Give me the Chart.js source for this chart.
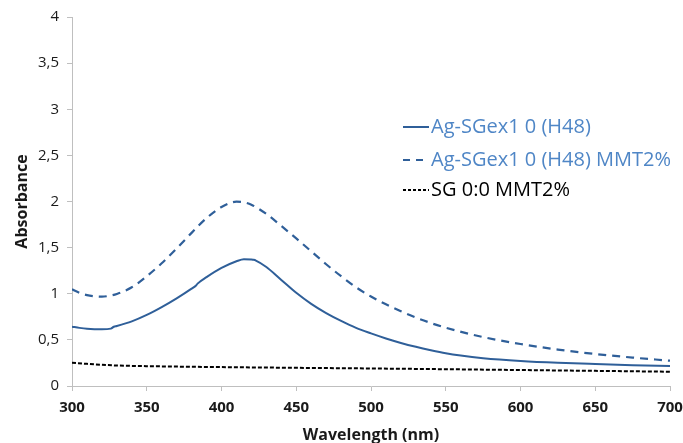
<!DOCTYPE html>
<html>
<head>
<meta charset="utf-8">
<script src="https://cdn.jsdelivr.net/npm/chart.js@4.4.1/dist/chart.umd.min.js"></script>
<style>
  html, body { margin: 0; padding: 0; background: #fff; }
  #wrap { width: 683px; height: 443px; }
</style>
</head>
<body>
<div id="wrap"><canvas id="absChart" width="683" height="443"></canvas></div>
<script>
// --- Data ---
const seriesNames = ['Ag-SGex1 0 (H48)', 'Ag-SGex1 0 (H48) MMT2%', 'SG 0:0 MMT2%'];

const wlH48 = [300, 305, 310, 315, 320, 326, 328, 330, 340, 350, 360, 370, 380, 383, 384, 390, 400, 410, 415, 420, 421, 423, 430, 440, 450, 460, 470, 480, 490, 500, 510, 520, 530, 540, 550, 560, 575, 600, 625, 650, 675, 700];
const absH48 = [0.643, 0.630, 0.620, 0.615, 0.614, 0.622, 0.642, 0.650, 0.700, 0.770, 0.855, 0.950, 1.055, 1.090, 1.110, 1.180, 1.280, 1.352, 1.375, 1.372, 1.369, 1.360, 1.290, 1.150, 1.010, 0.890, 0.790, 0.705, 0.630, 0.570, 0.515, 0.467, 0.425, 0.388, 0.355, 0.330, 0.302, 0.272, 0.252, 0.238, 0.226, 0.217];

const wlMMT = [300, 305, 310, 315, 320, 325, 330, 340, 350, 360, 370, 380, 390, 400, 410, 415, 420, 430, 440, 450, 460, 470, 480, 490, 500, 510, 520, 530, 540, 550, 575, 600, 625, 650, 675, 700];
const absMMT = [1.048, 1.010, 0.985, 0.972, 0.968, 0.978, 0.998, 1.070, 1.190, 1.330, 1.490, 1.660, 1.820, 1.940, 1.998, 1.992, 1.965, 1.865, 1.735, 1.600, 1.460, 1.320, 1.190, 1.070, 0.970, 0.885, 0.810, 0.742, 0.683, 0.632, 0.530, 0.455, 0.395, 0.347, 0.308, 0.274];

const wlSG = [300, 310, 320, 327, 330, 350, 400, 450, 500, 550, 600, 650, 700];
const absSG = [0.253, 0.240, 0.230, 0.224, 0.222, 0.215, 0.205, 0.197, 0.190, 0.182, 0.173, 0.164, 0.155];

const xTicks = [300, 350, 400, 450, 500, 550, 600, 650, 700];
const yTicks = [0, 0.5, 1, 1.5, 2, 2.5, 3, 3.5, 4];

const lineBlue = '#2f5f99';
const legendBlue = '#4f86c6';
const axisGray = '#bfbfbf';

function toPoints(xs, ys) {
    return xs.map((x, i) => ({ x: x, y: ys[i] }));
}

// legend drawn inside the plot, Excel style
const insideLegend = {
    id: 'insideLegend',
    afterDatasetsDraw(chart) {
        const ctx = chart.ctx;
        const rows = [
            { y: 127, color: legendBlue, dash: [], stroke: lineBlue, width: 2 },
            { y: 160, color: legendBlue, dash: [7, 6], stroke: lineBlue, width: 2 },
            { y: 190, color: '#000', dash: [3, 2], stroke: '#000', width: 1.8 }
        ];
        ctx.save();
        ctx.font = '20px "Open Sans", sans-serif';
        ctx.textBaseline = 'middle';
        rows.forEach((r, i) => {
            ctx.beginPath();
            ctx.setLineDash(r.dash);
            ctx.strokeStyle = r.stroke;
            ctx.lineWidth = r.width;
            ctx.moveTo(403, r.y);
            ctx.lineTo(429, r.y);
            ctx.stroke();
            ctx.fillStyle = r.color;
            ctx.fillText(seriesNames[i], 431, r.y);
        });
        ctx.restore();
    }
};

new Chart(document.getElementById('absChart').getContext('2d'), {
    type: 'line',
    data: {
        datasets: [
            {
                label: seriesNames[0],
                data: toPoints(wlH48, absH48),
                borderColor: lineBlue,
                borderWidth: 2,
                pointRadius: 0,
                cubicInterpolationMode: 'monotone',
                fill: false
            },
            {
                label: seriesNames[1],
                data: toPoints(wlMMT, absMMT),
                borderColor: lineBlue,
                borderWidth: 2.2,
                borderDash: [8, 6],
                pointRadius: 0,
                cubicInterpolationMode: 'monotone',
                fill: false
            },
            {
                label: seriesNames[2],
                data: toPoints(wlSG, absSG),
                borderColor: '#000',
                borderWidth: 2,
                borderDash: [4, 2],
                pointRadius: 0,
                cubicInterpolationMode: 'monotone',
                fill: false
            }
        ]
    },
    options: {
        responsive: false,
        animation: false,
        layout: { padding: { top: 17, right: 13, left: 9, bottom: 0 } },
        plugins: {
            legend: { display: false },
            tooltip: { enabled: false }
        },
        scales: {
            x: {
                type: 'linear',
                min: 300,
                max: 700,
                afterBuildTicks: (s) => { s.ticks = xTicks.map(v => ({ value: v })); },
                afterFit: (s) => { s.height = 57; s.paddingLeft = 0; s.paddingRight = 0; },
                grid: { drawOnChartArea: false, color: axisGray, tickLength: 5 },
                border: { color: axisGray },
                ticks: {
                    color: '#1a1a1a',
                    font: { family: '"Open Sans", sans-serif', size: 15, weight: 'bold' },
                    padding: 8,
                    maxRotation: 0
                },
                title: {
                    display: true,
                    text: 'Wavelength (nm)',
                    color: '#1a1a1a',
                    font: { family: '"Open Sans", sans-serif', size: 16, weight: 'bold' },
                    padding: { top: 0, bottom: -2 }
                }
            },
            y: {
                min: 0,
                max: 4,
                afterBuildTicks: (s) => { s.ticks = yTicks.map(v => ({ value: v })); },
                afterFit: (s) => { s.width = 63; s.paddingTop = 0; s.paddingBottom = 0; },
                grid: { drawOnChartArea: false, color: axisGray, tickLength: 5 },
                border: { color: axisGray },
                ticks: {
                    color: '#1a1a1a',
                    font: { family: '"Open Sans", sans-serif', size: 15 },
                    padding: 8,
                    callback: (v) => String(v).replace('.', ',')
                },
                title: {
                    display: true,
                    text: 'Absorbance',
                    color: '#1a1a1a',
                    font: { family: '"Open Sans", sans-serif', size: 16, weight: 'bold' },
                    padding: { bottom: 2 }
                }
            }
        }
    },
    plugins: [insideLegend]
});
</script>
</body>
</html>
